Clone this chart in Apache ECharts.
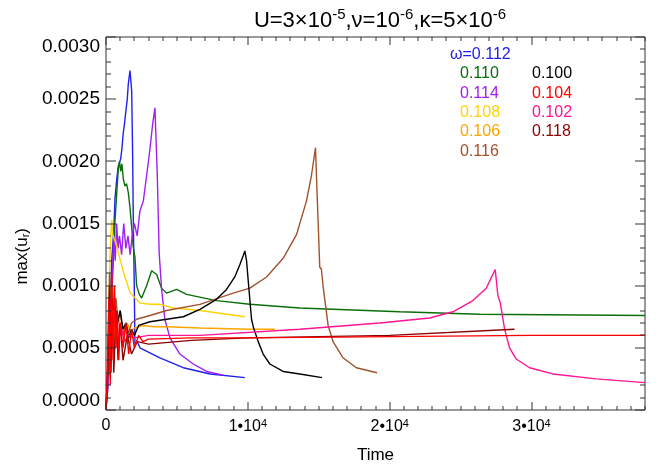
<!DOCTYPE html>
<html><head><meta charset="utf-8">
<script src="https://cdn.jsdelivr.net/npm/echarts@6/dist/echarts.min.js"></script>
<style>html,body{margin:0;padding:0;background:#fff}#c{width:660px;height:469px}</style>
</head><body><div id="c"></div>
<script>
// Series: [time, max(u_r)]
const w112 = [[0,0],[150,0.0003],[300,0.0008],[400,0.0012],[500,0.00136],[560,0.00147],[634,0.0017],[750,0.00185],[866,0.00196],[1035,0.00202],[1120,0.0021],[1218,0.00223],[1300,0.0023],[1408,0.00241],[1500,0.0025],[1570,0.00262],[1690,0.00273],[1810,0.00257],[1880,0.00204],[1920,0.00157],[1990,0.00102],[2040,0.00053],[2200,0.00055],[2390,0.0005],[3800,0.00042],[5450,0.00034],[7350,0.00029],[9790,0.00026]];
const w110 = [[0,0],[200,0.0003],[400,0.0009],[550,0.0013],[634,0.00152],[750,0.00173],[866,0.00194],[950,0.002],[1035,0.00192],[1120,0.00198],[1218,0.00186],[1330,0.0018],[1450,0.00182],[1570,0.00175],[1690,0.00163],[1810,0.00147],[1920,0.00131],[2040,0.00123],[2160,0.001],[2345,0.00093],[2510,0.0009],[2865,0.001],[3220,0.00112],[3570,0.00109],[3920,0.00098],[4270,0.00094],[4980,0.00097],[5680,0.00093],[7790,0.00088],[10140,0.00085],[13660,0.00082],[20700,0.00079],[26340,0.00077],[38000,0.00076]];
const w114 = [[0,0],[150,0.0002],[300,0.0006],[450,0.0011],[550,0.0014],[650,0.0012],[750,0.0015],[850,0.0013],[950,0.0014],[1100,0.00125],[1250,0.0015],[1400,0.0013],[1550,0.0014],[1700,0.00125],[1850,0.0014],[2000,0.0015],[2200,0.0014],[2390,0.0016],[2630,0.00168],[2870,0.00189],[3100,0.0021],[3290,0.0023],[3450,0.00243],[3610,0.00191],[3750,0.00126],[3920,0.00097],[4150,0.00073],[4510,0.00058],[5210,0.00045],[6150,0.00037],[7090,0.00031],[8260,0.00028]];
const w108 = [[0,0],[100,0.0004],[200,0.0009],[300,0.0013],[400,0.00153],[480,0.00141],[560,0.0014],[700,0.00134],[950,0.00123],[1300,0.00108],[1720,0.00094],[2390,0.00086],[3100,0.00085],[3800,0.00085],[4740,0.00082],[6620,0.0008],[9790,0.00075]];
const w106 = [[0,0],[150,0.0005],[250,0.001],[350,0.0006],[450,0.0009],[550,0.0005],[650,0.0008],[800,0.00075],[1000,0.0007],[1300,0.0006],[1500,0.0007],[1720,0.00063],[2000,0.00066],[2630,0.00068],[3330,0.00067],[4270,0.00067],[6620,0.00066],[10140,0.00065],[11900,0.00065]];
const w116 = [[0,0],[150,0.0003],[250,0.0011],[350,0.0007],[450,0.001],[550,0.0008],[700,0.0009],[850,0.0007],[1000,0.0008],[1200,0.0006],[1400,0.0007],[1600,0.00062],[1800,0.0007],[2160,0.00073],[3100,0.00076],[4270,0.0008],[6620,0.00085],[8970,0.00094],[10140,0.00098],[11320,0.00107],[12490,0.00122],[13430,0.00141],[14130,0.00168],[14490,0.00189],[14770,0.00211],[14880,0.00175],[15070,0.00115],[15190,0.00113],[15300,0.001],[15660,0.00068],[16010,0.00055],[16710,0.00042],[17650,0.00034],[19110,0.0003]];
const w100 = [[0,0],[150,0.0004],[300,0.0009],[450,0.0008],[600,0.00085],[800,0.0007],[1000,0.0008],[1200,0.00065],[1400,0.0007],[1600,0.00058],[1800,0.00065],[2000,0.0006],[2300,0.00068],[3100,0.00071],[5450,0.00075],[6620,0.00081],[7790,0.00089],[8500,0.00097],[9080,0.00107],[9440,0.00117],[9670,0.00124],[9790,0.00128],[9910,0.0012],[10020,0.00105],[10260,0.00073],[10380,0.00067],[10730,0.00055],[11080,0.00045],[11550,0.00037],[12490,0.00031],[13660,0.00029],[15230,0.00026]];
const w102 = [[0,0],[150,0.0006],[250,0.0003],[350,0.0009],[450,0.0005],[600,0.0008],[800,0.0005],[1000,0.0007],[1300,0.00055],[1600,0.0006],[2000,0.00058],[3000,0.0006],[6620,0.0006],[13660,0.00065],[19300,0.0007],[22820,0.00074],[24460,0.00079],[25870,0.00088],[26810,0.00098],[27440,0.00113],[27630,0.00092],[27800,0.00086],[28100,0.00065],[28450,0.0005],[28920,0.00041],[29860,0.00034],[31500,0.00029],[34560,0.00025],[38000,0.00022]];
const w118 = [[0,0],[150,0.0004],[250,0.001],[350,0.0003],[450,0.0009],[550,0.0003],[700,0.0008],[850,0.0004],[1000,0.0007],[1200,0.0004],[1500,0.0006],[1800,0.00045],[2200,0.00055],[3000,0.00053],[6000,0.00056],[10000,0.00058],[20000,0.0006],[28800,0.00065]];
const w104 = [[0,0],[100,0.0003],[200,0.0009],[300,0.0002],[400,0.0011],[500,0.0004],[600,0.001],[700,0.0005],[800,0.0008],[900,0.0004],[1000,0.0007],[1200,0.0005],[1400,0.0007],[1600,0.00045],[1800,0.00065],[2000,0.0005],[2300,0.0006],[2600,0.00055],[3000,0.00057],[6000,0.00058],[10000,0.00058],[20000,0.00059],[30000,0.0006],[38000,0.0006]];

const xTickLabels = {0:'{a|0}', 10000:'{a|1•10}{s|4}', 20000:'{a|2•10}{s|4}', 30000:'{a|3•10}{s|4}'};
const yTickLabels = ['0.0000','0.0005','0.0010','0.0015','0.0020','0.0025','0.0030'];

const C = {w112:'#2020f0', w110:'#0a6e0a', w114:'#a020f0', w108:'#ffd400', w106:'#ffa500', w116:'#a0522d', w100:'#000000', w104:'#ff0000', w102:'#ff1493', w118:'#8b0000'};

const FONT = 'Liberation Sans, Arial, Helvetica, sans-serif';
const axCol = '#333';
const X_MAX = 38000, Y_MAX = 0.003;

// tick marks (minor every 1000 / 0.0001, major every 10000 / 0.0005), placed through the axis scales
const tickData = [];
for (let i = 0; i <= 38; i++) tickData.push([i * 1000, 0, 0, i % 10 === 0 ? 1 : 0]);
for (let j = 0; j <= 30; j++) tickData.push([0, j * 0.0001, 1, j % 5 === 0 ? 1 : 0]);

function renderTick(params, api) {
  const kind = api.value(2), major = api.value(3);
  const st = {fill: axCol};
  if (kind === 0) {
    const v = api.value(0);
    const b = api.coord([v, 0]), t = api.coord([v, Y_MAX]);
    const L = major ? 8 : 4;
    const x = Math.round(b[0]) - 0.5;
    return {type:'group', children:[
      {type:'rect', shape:{x:x, y:b[1] - L, width:1, height:L}, style:st},
      {type:'rect', shape:{x:x, y:t[1], width:1, height:L}, style:st}
    ]};
  }
  const v = api.value(1);
  const l = api.coord([0, v]), r = api.coord([X_MAX, v]);
  const L = major ? 10 : 5;
  const y = Math.round(l[1]) - 0.5;
  return {type:'group', children:[
    {type:'rect', shape:{x:l[0], y:y, width:L, height:1}, style:st},
    {type:'rect', shape:{x:r[0] - L, y:y, width:L, height:1}, style:st}
  ]};
}

const series = [
  ['w112', w112], ['w110', w110], ['w114', w114], ['w108', w108], ['w106', w106],
  ['w116', w116], ['w100', w100], ['w102', w102], ['w118', w118], ['w104', w104]
].map(([k, d]) => ({
  type:'line', data:d, showSymbol:false, symbol:'none',
  lineStyle:{color:C[k], width:1.4}, itemStyle:{color:C[k]}
}));
series.push({type:'custom', data:tickData, renderItem:renderTick, silent:true, clip:false, z:5,
  encode:{x:0, y:1}});

const chart = echarts.init(document.getElementById('c'));
chart.setOption({
  animation:false,
  grid:{left:106, right:15, top:37, bottom:49, show:true, borderColor:axCol, borderWidth:1, backgroundColor:'transparent'},
  xAxis:{
    type:'value', position:'bottom', min:0, max:X_MAX, interval:10000,
    axisLine:{show:false}, axisTick:{show:false}, splitLine:{show:false},
    axisLabel:{show:true, formatter:v => xTickLabels[v] || '', margin:8, color:'#000',
      rich:{a:{fontSize:16, fontFamily:FONT, color:'#000'}, s:{fontSize:11, fontFamily:FONT, color:'#000', verticalAlign:'top', padding:[0,0,6,0]}}},
    name:'Time', nameLocation:'middle', nameGap:37, nameTextStyle:{fontSize:17, fontFamily:FONT, color:'#000'}
  },
  yAxis:{
    type:'value', position:'left', min:0, max:Y_MAX, interval:0.0005,
    axisLine:{show:false}, axisTick:{show:false}, splitLine:{show:false},
    axisLabel:{show:true, margin:6, color:'#000', fontSize:19, fontFamily:FONT,
      verticalAlignMinLabel:'bottom', verticalAlignMaxLabel:'top',
      formatter: v => yTickLabels[Math.round(v/0.0005)] || ''}
  },
  series: series,
  title:{
    text:'{n|U=3×10}{s|-5}{n|,ν=10}{s|-6}{n|,κ=5×10}{s|-6}',
    left:375, top:2, textAlign:'center',
    textStyle:{fontWeight:'normal', rich:{
      n:{fontSize:22, fontFamily:FONT, color:'#000', fontWeight:'normal', lineHeight:28},
      s:{fontSize:15, fontFamily:FONT, color:'#000', fontWeight:'normal', verticalAlign:'top', lineHeight:18}
    }}
  },
  graphic:[
    {type:'text', left:14, top:228, rotation:Math.PI/2, originX:0, originY:0,
     style:{text:'{a|max(u}{b|r}{a|)}', rich:{a:{fontSize:17, fontFamily:FONT, fill:'#000'}, b:{fontSize:11, fontFamily:FONT, fill:'#000', verticalAlign:'bottom'}}}},
    ...[['ω=0.112', 450, 47, 'w112'],
        ['0.110', 460, 66, 'w110'], ['0.100', 532, 66, 'w100'],
        ['0.114', 460, 86, 'w114'], ['0.104', 532, 86, 'w104'],
        ['0.108', 460, 105, 'w108'], ['0.102', 532, 105, 'w102'],
        ['0.106', 460, 124, 'w106'], ['0.118', 532, 124, 'w118'],
        ['0.116', 460, 144, 'w116']].map(([t, x, y, k]) => ({type:'text', left:x, top:y, style:{text:t, fill:C[k], font:'16px ' + FONT}}))
  ]
});
</script></body></html>
